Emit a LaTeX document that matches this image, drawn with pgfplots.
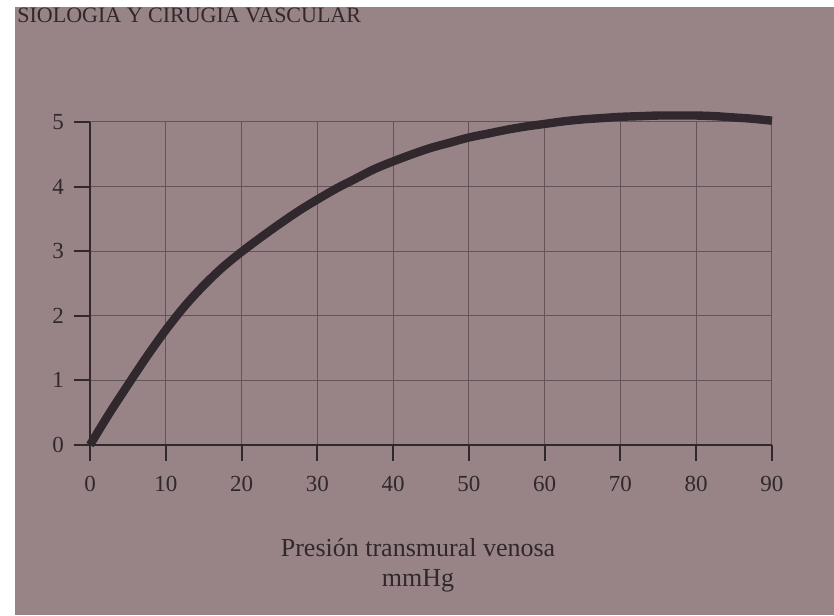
\documentclass[border=0pt]{standalone}
\usepackage{pgfplots}
\pgfplotsset{compat=1.18}
\usepackage{fontspec}
\setmainfont{Liberation Serif}
\definecolor{bg}{RGB}{152,132,134}
\definecolor{ink}{RGB}{48,40,44}
\definecolor{gridc}{RGB}{98,84,88}
\begin{document}
\begin{tikzpicture}[x=0.5pt,y=0.5pt]
\path[use as bounding box] (0,0) rectangle (834,615);
\fill[white] (0,0) rectangle (834,615);
\fill[bg] (15,0) rectangle (834,608);
\node[anchor=base west, font=\fontsize{11}{12}\selectfont, text=ink, inner sep=0] at (17,592) {SIOLOGIA Y CIRUGIA VASCULAR};
\begin{axis}[
  at={(45pt,85pt)}, anchor=origin,
  scale only axis, width=341pt, height=161.5pt,
  xmin=0, xmax=90, ymin=0, ymax=5,
  axis lines*=left,
  axis line style={ink, line width=1.1pt},
  grid=major, grid style={gridc, line width=0.5pt},
  tick style={ink, line width=1pt}, tick align=outside, major tick length=8pt,
  xtick={0,10,...,90}, ytick={0,1,2,3,4,5},
  /pgf/number format/assume math mode=true,
  ticklabel style={font=\fontsize{11.5}{12}\selectfont, text=ink},
  xticklabel style={yshift=-4pt},
  yticklabel style={xshift=-1.5pt},
  xlabel={Presión transmural venosa\\mmHg},
  xlabel style={font=\fontsize{13}{15}\selectfont, text=ink, align=center,
    at={(axis description cs:0.481,0)}, anchor=north, inner sep=0pt, yshift=-46.5pt},
  clip=false,
]
\addplot[ink, line width=4.2pt, smooth, tension=0.5, line cap=butt] coordinates {
(0,0) (2.5,0.48) (5,0.93) (7.5,1.37) (10,1.78) (12.5,2.15) (15,2.47) (17.5,2.75)
(20,2.99) (22.5,3.21) (25,3.42) (27.5,3.62) (30,3.8) (32.5,3.97) (35,4.12)
(37.5,4.27) (40,4.39) (42.5,4.5) (45,4.6) (47.5,4.68) (50,4.76) (52.5,4.82)
(55,4.88) (57.5,4.93) (60,4.97) (62.5,5.01) (65,5.04) (67.5,5.06) (70,5.08)
(72.5,5.09) (75,5.1) (77.5,5.1) (80,5.1) (82.5,5.09) (85,5.07) (87.5,5.05) (90,5.02)
};
\end{axis}
\end{tikzpicture}
\end{document}
